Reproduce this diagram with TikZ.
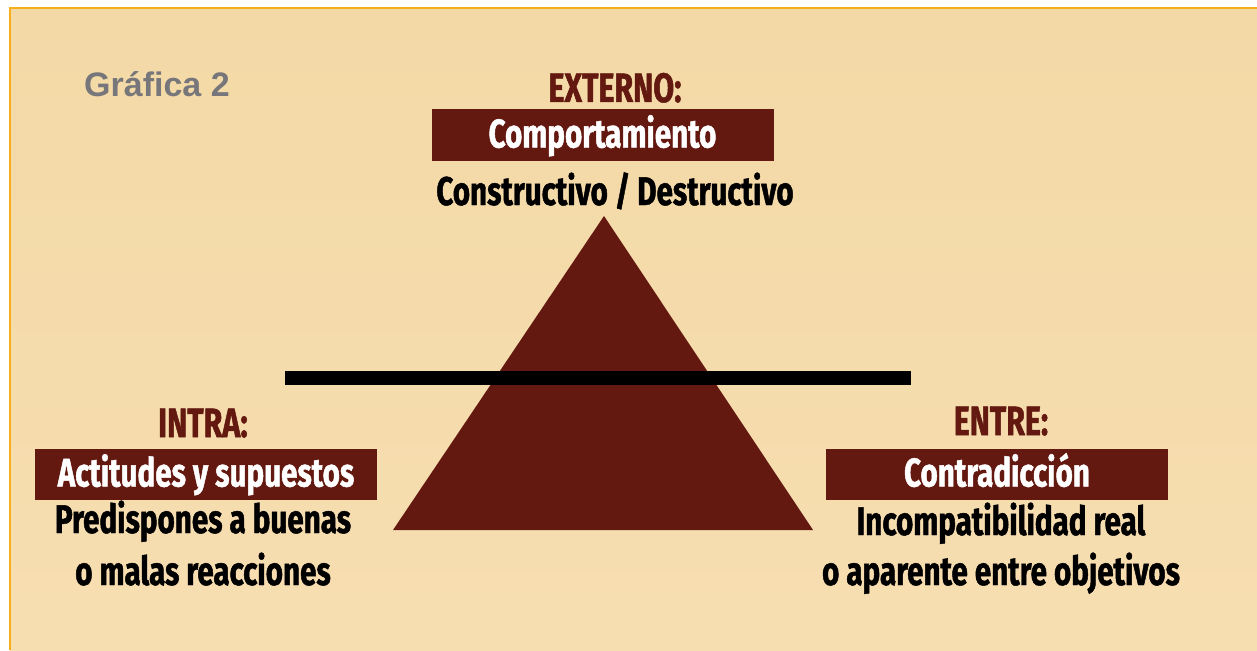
\documentclass[tikz,border=0pt]{standalone}
\usepackage{fontspec}
\setmainfont{Liberation Sans}
\newfontfamily\handfont[FakeStretch=0.74, BoldFeatures={FakeBold=1.2}]{Fira Sans}
\definecolor{paper}{HTML}{F3D9A6}
\definecolor{paperlight}{HTML}{F7DEB1}
\definecolor{frameorange}{HTML}{F6AE1A}
\definecolor{maroon}{HTML}{631810}
\definecolor{titlegray}{HTML}{77777B}
\begin{document}
\begin{tikzpicture}[x=1pt,y=-1pt,
    title/.style={anchor=base west, inner sep=0, text=titlegray, font=\fontsize{34}{38}\selectfont\bfseries},
    head/.style={anchor=base, inner sep=0, text=maroon, font=\handfont\fontsize{41}{44}\selectfont\bfseries},
    box/.style={fill=maroon, text=white, inner sep=0, minimum width=342pt, minimum height=51pt,
        text height=30pt, text depth=5pt, font=\handfont\fontsize{40}{44}\selectfont\bfseries},
    note/.style={anchor=base, inner sep=0, text=black, font=\handfont\fontsize{40}{44}\selectfont\bfseries}]
    \useasboundingbox (0,0) rectangle (1257,650);
    %paper
    \fill[white] (0,0) rectangle (1257,650);
    \shade[top color=paper, bottom color=paperlight] (10,8) rectangle (1257,650);
    \draw[frameorange, line width=2.2pt] (10,650) -- (10,8) -- (1257,8);
    %
    \node[title] (grafica) at (84,97) {Gráfica 2};
    %triangle
    \fill[maroon] (604,216) -- (813,530) -- (393,530) -- cycle;
    %bar
    \fill[black] (285,371) rectangle (911,385);
    %
    %externo
    \node[head] (externo) at (615,102) {EXTERNO:};
    \node[box] (comportamiento) at (602.5,135) {Comportamiento};
    \node[note] (constructivo) at (615,205) {Constructivo / Destructivo};
    %intra
    \node[head] (intra) at (203,437) {INTRA:};
    \node[box] (actitudes) at (206,474) {Actitudes y supuestos};
    \node[note] (predispones) at (203,533) {Predispones a buenas};
    \node[note] (reacciones) at (203,585) {o malas reacciones};
    %entre
    \node[head] (entre) at (1001,435) {ENTRE:};
    \node[box] (contradiccion) at (997,474) {Contradicción};
    \node[note] (incompatibilidad) at (1001,535) {Incompatibilidad real};
    \node[note] (objetivos) at (1001,585) {o aparente entre objetivos};
    %
\end{tikzpicture}
\end{document}
